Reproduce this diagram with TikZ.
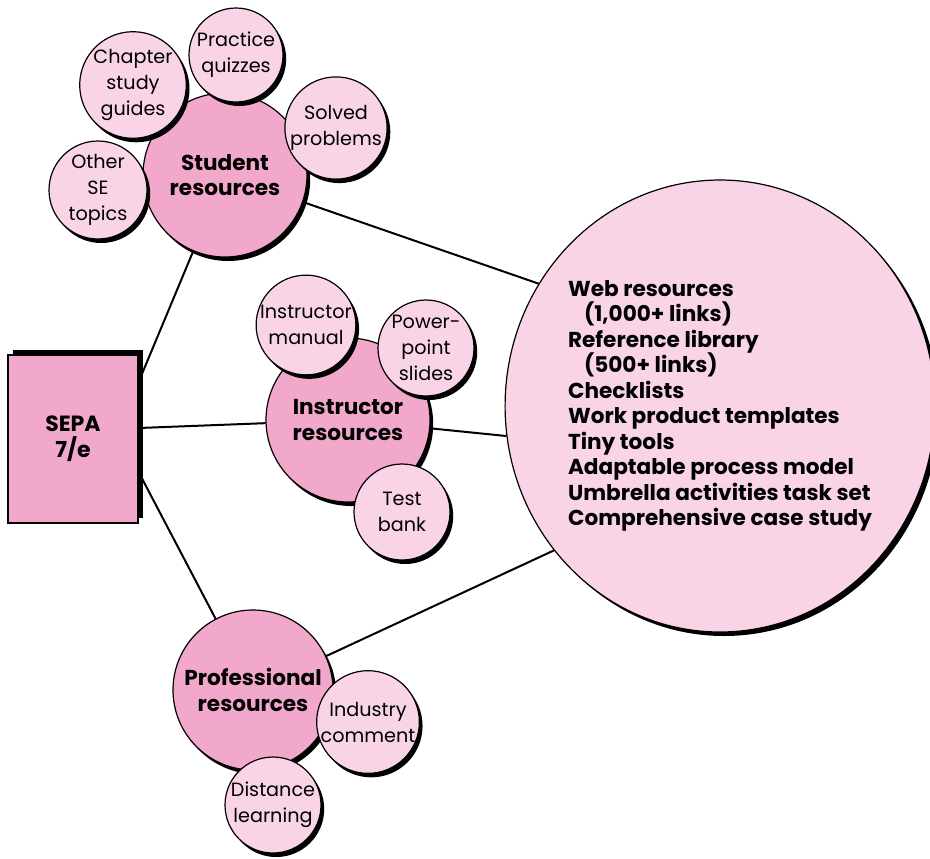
\documentclass[tikz,border=0pt]{standalone}
\usepackage{fontspec}
\setmainfont{Poppins}
\usetikzlibrary{shapes.geometric,shadows,backgrounds}
\definecolor{pinkdark}{RGB}{242,168,203}
\definecolor{pinklight}{RGB}{249,212,230}
\begin{document}
\begin{tikzpicture}
[x=0.5pt, y=-0.5pt,
  shadowdecorate/.style={drop shadow={shadow xshift=1.6pt,shadow yshift=-2pt,fill=black,opacity=1}},%
  maindecorate/.style={shape=circle,draw,line width=0.6pt,fill=pinkdark,inner sep=0pt,
    align=center,font=\bfseries\fontsize{10.8}{12.8}\selectfont,shadowdecorate},%
  subdecorate/.style={shape=circle,draw,line width=0.6pt,fill=pinklight,inner sep=0pt,
    align=center,font=\fontsize{9.6}{13}\selectfont,shadowdecorate},%
  linedecorate/.style={-,line width=1pt}]
\useasboundingbox (0,0) rectangle (930,858);
%% book
\node (sepa) at (73,439) [draw,line width=0.6pt,fill=pinkdark,minimum width=65pt,
  minimum height=84pt,align=center,font=\bfseries\fontsize{11}{13}\selectfont,
  drop shadow={shadow xshift=2.5pt,shadow yshift=2.5pt,fill=black,opacity=1}] {SEPA\\7/e};
\coordinate (sepatop) at ([yshift=28.5pt]sepa.east);
\coordinate (sepamid) at ([yshift=5.5pt]sepa.east);
\coordinate (sepalow) at ([yshift=-16.5pt]sepa.east);
%% web resources
\node (web) at (720,406) [shape=ellipse,draw,line width=0.6pt,fill=pinklight,inner sep=0pt,
  minimum width=203pt,minimum height=226pt,align=left,
  font=\bfseries\fontsize{10.8}{12.75}\selectfont,
  drop shadow={shadow xshift=2pt,shadow yshift=-2pt,fill=black,opacity=1}]
  {Web resources\\\hspace*{8pt}(1,000+ links)\\Reference library\\\hspace*{8pt}(500+ links)\\
   Checklists\\Work product templates\\Tiny tools\\Adaptable process model\\
   Umbrella activities task set\\Comprehensive case study};
%% resource circles
\foreach \nodename/\x/\y/\size/\txt in {student/225/175/82/{Student\\resources},
  instr/348/420/82/{Instructor\\resources}, prof/253/690/80/{Professional\\resources}}
{
  \node (\nodename) at (\x,\y) [maindecorate,minimum size=\size pt] {\txt};
}
\foreach \nodename/\x/\y/\size/\txt in {chapter/133/85/47/{Chapter\\study\\guides},
  quizzes/236/55/47/{Practice\\quizzes}, solved/336/128/48/{Solved\\problems},
  other/98/190/49/{Other\\SE\\topics}, manual/306/325/49/{Instructor\\manual},
  slides/426/348/48/{Power-\\point\\slides}, bank/402/512/48/{Test\\bank},
  industry/368/722/48/{Industry\\comment}, distance/273/805/48/{Distance\\learning}}
{
  \node (\nodename) at (\x,\y) [subdecorate,minimum size=\size pt] {\txt};
}
%% edges or lines
\begin{scope}[on background layer]
\path
\foreach \startnode/\endnode in {sepatop/student, sepamid/instr, sepalow/prof,
  student/web.146, instr/web.188, prof/web.221} {
  (\startnode) edge[linedecorate] (\endnode)
};
\end{scope}
\end{tikzpicture}
\end{document}
